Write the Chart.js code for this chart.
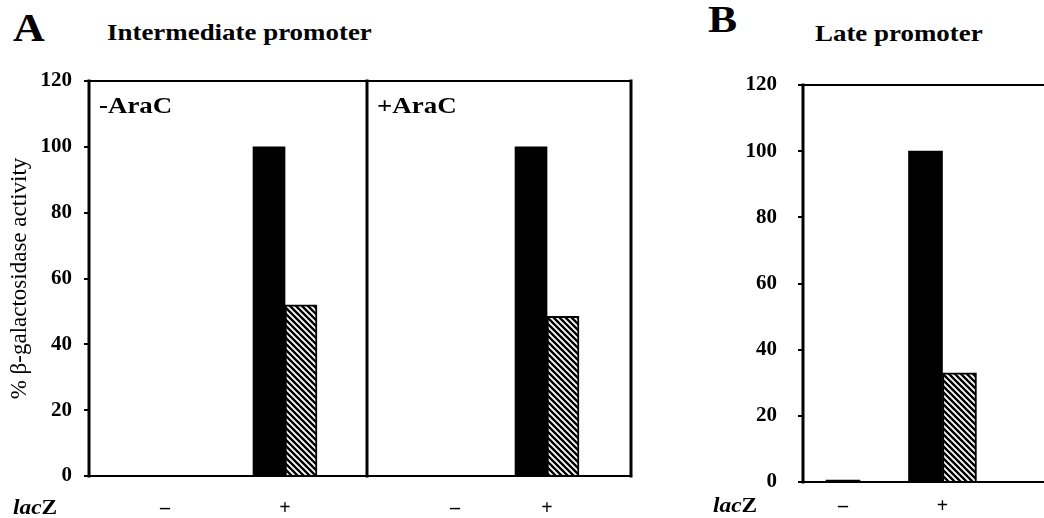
<!DOCTYPE html>
<html>
<head>
<meta charset="utf-8">
<title>Intermediate and late promoter activity</title>
<script src="https://cdn.jsdelivr.net/npm/chart.js@4.4.0/dist/chart.umd.min.js"></script>
<style>
  body { margin: 0; background: #fff; }
  #page { position: relative; width: 1044px; height: 518px; overflow: hidden;
          font-family: "Liberation Serif", "Times New Roman", serif; font-weight: bold; color: #000; }
  .box { position: absolute; }
  .txt { position: absolute; line-height: 1; white-space: nowrap;
         transform-origin: 0 0; transform: scaleX(1.17); }
</style>
</head>
<body>
<div id="page">
  <div class="box" style="left:0;top:58px;width:372px;height:460px"><canvas id="chartA1"></canvas></div>
  <div class="box" style="left:360px;top:58px;width:280px;height:460px"><canvas id="chartA2"></canvas></div>
  <div class="box" style="left:700px;top:53px;width:400px;height:465px"><canvas id="chartB"></canvas></div>

  <div class="txt" style="left:13px;top:8px;font-size:40px;transform:scaleX(1.1)">A</div>
  <div class="txt" style="left:107px;top:21px;font-size:23px">Intermediate promoter</div>
  <div class="txt" style="left:99px;top:94px;font-size:23px">-AraC</div>
  <div class="txt" style="left:377px;top:94px;font-size:23px">+AraC</div>
  <div class="txt" style="left:13px;top:497px;font-size:20px"><i>lac</i>Z</div>

  <div class="txt" style="left:708px;top:0;font-size:38px;transform:scaleX(1.15)">B</div>
  <div class="txt" style="left:815px;top:22px;font-size:23px">Late promoter</div>
  <div class="txt" style="left:713px;top:495px;font-size:20px"><i>lac</i>Z</div>
</div>

<script>
// lacZ categories (placed on a linear x scale so they can sit off-centre like the figure)
const lacZLabels = ['–', '+'];
const lacZPos = [0, 1];

// % beta-galactosidase activity
const intermNoAraCSolid = [null, 100];
const intermNoAraCHatched = [null, 52];
const intermAraCSolid = [null, 100];
const intermAraCHatched = [null, 48.5];
const lateSolid = [0.6, 100];
const lateHatched = [null, 33];

const yTicks = [0, 20, 40, 60, 80, 100, 120];

Chart.defaults.font.family = '"Liberation Serif", "Times New Roman", serif';
Chart.defaults.color = '#000';

// diagonal black/white stripes for the second series
function makeHatch() {
  const c = document.createElement('canvas');
  c.width = c.height = 6;
  const g = c.getContext('2d');
  g.fillStyle = '#fff';
  g.fillRect(0, 0, 6, 6);
  g.strokeStyle = '#000';
  g.lineWidth = 2.4;
  g.beginPath();
  [-6, 0, 6].forEach(k => {
    g.moveTo(k - 1, -1);
    g.lineTo(k + 7, 7);
  });
  g.stroke();
  return g.createPattern(c, 'repeat');
}
const hatch = makeHatch();

// box lines round the plot area
const framePlugin = {
  id: 'frame',
  afterDatasetsDraw(chart, args, opts) {
    const {ctx, chartArea: a} = chart;
    ctx.save();
    ctx.strokeStyle = '#000';
    ctx.lineCap = 'square';
    (opts.sides || []).forEach(side => {
      ctx.lineWidth = (side === 'top' || side === 'bottom') ? 2 : 3;
      ctx.beginPath();
      if (side === 'top') { ctx.moveTo(a.left, a.top); ctx.lineTo(a.right, a.top); }
      if (side === 'bottom') { ctx.moveTo(a.left, a.bottom); ctx.lineTo(a.right, a.bottom); }
      if (side === 'left') { ctx.moveTo(a.left, a.top); ctx.lineTo(a.left, a.bottom); }
      if (side === 'right') { ctx.moveTo(a.right, a.top); ctx.lineTo(a.right, a.bottom); }
      ctx.stroke();
    });
    ctx.restore();
  }
};

function points(values) {
  return lacZPos.map((x, i) => ({x: x, y: values[i]}));
}

function buildChart(id, solid, hatched, o) {
  return new Chart(document.getElementById(id), {
    type: 'bar',
    data: {
      datasets: [
        {
          label: 'solid',
          data: points(solid),
          backgroundColor: '#000',
          borderWidth: 0,
          barThickness: o.thickness,
          skipNull: true
        },
        {
          label: 'hatched',
          data: points(hatched),
          backgroundColor: hatch,
          borderColor: '#000',
          borderWidth: 2,
          borderSkipped: 'bottom',
          barThickness: o.thickness,
          skipNull: true
        }
      ]
    },
    options: {
      responsive: true,
      maintainAspectRatio: false,
      animation: false,
      layout: { padding: o.padding },
      plugins: {
        legend: { display: false },
        tooltip: { enabled: false },
        frame: { sides: o.sides }
      },
      scales: {
        x: {
          type: 'linear',
          offset: false,
          min: o.xMin,
          max: o.xMax,
          afterBuildTicks: s => { s.ticks = lacZPos.map(v => ({value: v})); },
          afterFit: s => { s.height = o.xHeight; },
          grid: { display: false, drawTicks: false },
          border: { display: false },
          ticks: {
            autoSkip: false,
            maxRotation: 0,
            padding: o.xPad,
            font: { size: 20, weight: 'bold' },
            callback: (v, i) => lacZLabels[i]
          }
        },
        y: {
          display: o.showY,
          min: 0,
          max: 120,
          afterBuildTicks: s => { s.ticks = yTicks.map(v => ({value: v})); },
          afterFit: s => { s.width = o.yWidth; },
          grid: { drawOnChartArea: false, drawTicks: true, tickLength: 5, color: '#000', lineWidth: 2 },
          border: { display: false },
          ticks: { padding: o.yPad, font: { size: 21, weight: 'bold', lineHeight: '22px' } },
          title: o.yTitle
            ? { display: true, text: o.yTitle, font: { size: 23, weight: 'normal' }, padding: { top: 6, bottom: 0 } }
            : { display: false }
        }
      }
    },
    plugins: [framePlugin]
  });
}

// chart area top = tick padding + half tick line height (23 / 32 px)
buildChart('chartA1', intermNoAraCSolid, intermNoAraCHatched, {
  xMin: -0.633, xMax: 1.683, thickness: 32,
  showY: true, yWidth: 89, yPad: 12, yTitle: '% β-galactosidase activity',
  xHeight: 42, xPad: 21,
  padding: { left: 0, right: 5, top: 0, bottom: 0 },
  sides: ['top', 'right', 'bottom', 'left']
});

buildChart('chartA2', intermAraCSolid, intermAraCHatched, {
  xMin: -0.957, xMax: 1.913, thickness: 32,
  showY: false, yWidth: 0, yPad: 0,
  xHeight: 42, xPad: 21,
  padding: { left: 7, right: 9, top: 23, bottom: 0 },
  sides: ['top', 'right', 'bottom']
});

buildChart('chartB', lateSolid, lateHatched, {
  xMin: -0.402, xMax: 2.583, thickness: 34,
  showY: true, yWidth: 103, yPad: 21,
  xHeight: 36, xPad: 13,
  padding: { left: 0, right: 0, top: 0, bottom: 0 },
  sides: ['top', 'bottom', 'left']
});
</script>
</body>
</html>
